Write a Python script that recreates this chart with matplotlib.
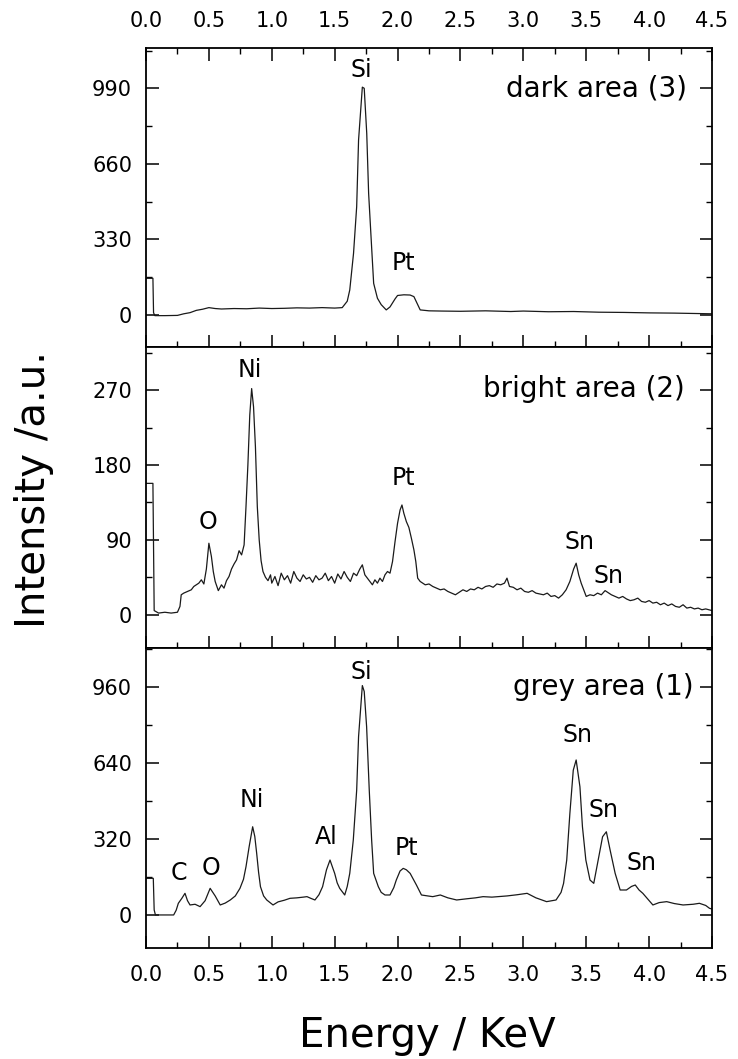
import matplotlib
matplotlib.use("Agg")
import matplotlib.pyplot as plt
from matplotlib.ticker import MultipleLocator, FormatStrFormatter

# ---------------- data ----------------
# dark area (3)
x_dark = [0.00, 0.055, 0.06, 0.07, 0.15, 0.25, 0.30, 0.35, 0.40, 0.45, 0.50, 0.55, 0.60,
          0.70, 0.80, 0.90, 1.00, 1.10, 1.20, 1.30, 1.40, 1.50, 1.56, 1.60, 1.62, 1.65,
          1.675, 1.69, 1.72, 1.735, 1.755, 1.77, 1.795, 1.81, 1.84, 1.87, 1.91, 1.94,
          1.98, 2.00, 2.05, 2.10, 2.13, 2.18, 2.25, 2.35, 2.50, 2.70, 2.90, 3.00, 3.20,
          3.40, 3.60, 3.80, 4.00, 4.20, 4.40, 4.50]
y_dark = [160, 160, 10, -3, -3, -2, 5, 10, 20, 25, 32, 28, 26,
          28, 27, 30, 28, 29, 31, 30, 32, 30, 32, 60, 109, 269,
          473, 764, 995, 990, 793, 531, 284, 138, 73, 45, 22, 35,
          70, 85, 88, 87, 80, 22, 18, 17, 16, 18, 15, 17, 14,
          15, 12, 11, 9, 8, 6, 5]

# bright area (2)
x_bright = [0.00, 0.055, 0.065, 0.10, 0.15, 0.20, 0.25, 0.27, 0.28, 0.30, 0.33, 0.36, 0.38,
            0.40, 0.42, 0.44, 0.46, 0.48, 0.50, 0.52, 0.535, 0.55, 0.575, 0.60, 0.62, 0.64,
            0.66, 0.68, 0.70, 0.72, 0.74, 0.76, 0.78, 0.795, 0.81, 0.825, 0.84, 0.855, 0.87,
            0.885, 0.90, 0.915, 0.93, 0.95, 0.97, 0.99,
            1.00, 1.025, 1.05, 1.075, 1.10, 1.125, 1.15, 1.175, 1.20, 1.225, 1.25, 1.275,
            1.30, 1.325, 1.35, 1.375, 1.40, 1.425, 1.45, 1.475, 1.50, 1.525, 1.55, 1.575,
            1.60, 1.625, 1.65, 1.675, 1.70, 1.72, 1.74, 1.76, 1.78, 1.80, 1.82, 1.84, 1.86,
            1.88, 1.90, 1.92, 1.94, 1.96, 1.98, 2.00, 2.02, 2.035, 2.05, 2.07, 2.09, 2.11,
            2.13, 2.145, 2.16, 2.18, 2.20, 2.22, 2.25, 2.28, 2.31, 2.34, 2.37, 2.40, 2.43,
            2.46, 2.49, 2.52, 2.55, 2.58, 2.61, 2.64, 2.67, 2.70, 2.73, 2.76, 2.79, 2.82,
            2.85, 2.87, 2.89, 2.92, 2.95, 2.98, 3.01, 3.04, 3.07, 3.10, 3.13, 3.16, 3.19,
            3.22, 3.25, 3.28, 3.31, 3.34, 3.37, 3.40, 3.42, 3.44, 3.46, 3.48, 3.50, 3.53,
            3.56, 3.59, 3.62, 3.65, 3.67, 3.70, 3.73, 3.76, 3.79, 3.82, 3.85, 3.88, 3.91,
            3.94, 3.97, 4.00, 4.03, 4.06, 4.09, 4.12, 4.15, 4.18, 4.21, 4.24, 4.27, 4.30,
            4.33, 4.36, 4.39, 4.42, 4.45, 4.50]
y_bright = [158, 158, 5, 2, 3, 2, 3, 10, 24, 26, 28, 30, 34,
            36, 38, 42, 37, 55, 86, 70, 52, 40, 29, 36, 32, 41,
            46, 55, 61, 66, 77, 72, 84, 130, 180, 240, 272, 250, 202,
            130, 90, 65, 52, 45, 41, 48,
            38, 46, 35, 50, 42, 47, 38, 52, 44, 40, 48, 43,
            45, 39, 47, 42, 44, 50, 41, 46, 38, 49, 43, 52,
            45, 40, 50, 47, 55, 60, 48, 44, 40, 36, 42, 38, 44,
            40, 48, 52, 50, 64, 88, 110, 126, 132, 122, 112, 105, 92,
            78, 64, 44, 40, 38, 36, 37, 34, 32, 30, 31, 28, 26,
            24, 27, 30, 28, 31, 30, 33, 31, 34, 35, 33, 37, 36,
            38, 44, 34, 33, 30, 32, 28, 27, 29, 26, 25, 24, 26,
            22, 23, 20, 24, 30, 40, 55, 62, 48, 38, 30, 22, 24,
            23, 26, 24, 29, 27, 24, 22, 20, 22, 19, 17, 18, 20,
            16, 15, 17, 14, 15, 12, 14, 11, 13, 10, 9, 12, 8,
            9, 7, 8, 6, 7, 5]

# grey area (1)
x_grey = [0.00, 0.058, 0.065, 0.075, 0.22, 0.24, 0.257, 0.285, 0.31, 0.33, 0.35, 0.39, 0.43,
          0.47, 0.51, 0.55, 0.59, 0.63, 0.67, 0.71, 0.747, 0.775, 0.795, 0.82, 0.848, 0.865,
          0.88, 0.895, 0.91, 0.935, 0.96, 1.01, 1.05, 1.10, 1.145, 1.20, 1.25, 1.28, 1.31,
          1.343, 1.375, 1.404, 1.435, 1.463, 1.48, 1.50, 1.52, 1.54, 1.58, 1.60, 1.62,
          1.648, 1.675, 1.69, 1.72, 1.735, 1.754, 1.775, 1.794, 1.81, 1.847, 1.87, 1.90,
          1.94, 1.97, 1.99, 2.02, 2.045, 2.07, 2.10, 2.15, 2.19, 2.24, 2.28, 2.34, 2.40,
          2.47, 2.55, 2.62, 2.68, 2.75, 2.87, 2.95, 3.03, 3.10, 3.185, 3.26, 3.30, 3.32,
          3.345, 3.37, 3.397, 3.42, 3.45, 3.47, 3.497, 3.53, 3.56, 3.595, 3.63, 3.66, 3.69,
          3.73, 3.77, 3.82, 3.86, 3.89, 3.92, 3.95, 4.03, 4.08, 4.14, 4.20, 4.27, 4.35,
          4.40, 4.45, 4.48, 4.50]
y_grey = [154, 154, 21, 0, 0, 20, 49, 70, 91, 60, 42, 45, 35,
          60, 112, 80, 42, 50, 63, 80, 112, 150, 203, 287, 371, 330,
          259, 180, 119, 80, 63, 42, 55, 62, 70, 72, 75, 77, 70,
          63, 85, 119, 190, 231, 205, 175, 135, 112, 84, 120, 175,
          315, 525, 750, 965, 940, 792, 525, 315, 175, 119, 95, 84,
          84, 115, 147, 185, 196, 190, 175, 126, 84, 80, 77, 84, 72,
          63, 68, 72, 77, 75, 80, 85, 91, 72, 56, 63, 95, 133,
          231, 427, 609, 652, 539, 371, 231, 147, 133, 231, 329, 350, 273,
          175, 105, 105, 120, 126, 105, 91, 42, 52, 56, 48, 42, 45,
          49, 40, 28, 25]

x_ticks = [0.0, 0.5, 1.0, 1.5, 2.0, 2.5, 3.0, 3.5, 4.0, 4.5]
y_ticks_dark = [0, 330, 660, 990]
y_ticks_bright = [0, 90, 180, 270]
y_ticks_grey = [0, 320, 640, 960]

labels_dark = [("Si", 1.715, 1070), ("Pt", 2.045, 227)]
labels_bright = [("Ni", 0.827, 294), ("O", 0.495, 112), ("Pt", 2.045, 164),
                 ("Sn", 3.45, 88), ("Sn", 3.675, 46)]
labels_grey = [("Si", 1.715, 1023), ("Ni", 0.84, 484), ("Al", 1.436, 329),
               ("Pt", 2.07, 280), ("C", 0.265, 175), ("O", 0.52, 196),
               ("Sn", 3.43, 757), ("Sn", 3.64, 441), ("Sn", 3.94, 217)]

# ---------------- figure ----------------
W, H = 738, 1059
fig = plt.figure(figsize=(W / 100, H / 100), dpi=100)
plt.rcParams['font.family'] = ['DejaVu Sans']

left = 146 / W
width = (712 - 146) / W
def frac_y(py):
    return 1 - py / H

panels = [
    dict(top=48, bot=347, x=x_dark, y=y_dark, yt=y_ticks_dark, ylim=(-140, 1166),
         name="dark area (3)", namex=4.30, namey=990, labels=labels_dark, toplabels=True),
    dict(top=347, bot=648, x=x_bright, y=y_bright, yt=y_ticks_bright, ylim=(-40, 322),
         name="bright area (2)", namex=4.285, namey=272, labels=labels_bright, toplabels=False),
    dict(top=648, bot=948, x=x_grey, y=y_grey, yt=y_ticks_grey, ylim=(-139, 1123),
         name="grey area (1)", namex=4.35, namey=960, labels=labels_grey, toplabels=False),
]

for i, p in enumerate(panels):
    ax = fig.add_axes([left, frac_y(p['bot']), width, (p['bot'] - p['top']) / H])
    ax.plot(p['x'], p['y'], color='#1a1a1a', lw=0.9)
    ax.set_xlim(0, 4.5)
    ax.set_ylim(*p['ylim'])
    ax.set_xticks(x_ticks)
    ax.xaxis.set_minor_locator(MultipleLocator(0.25))
    ax.set_yticks(p['yt'])
    step = p['yt'][1] - p['yt'][0]
    ax.yaxis.set_minor_locator(MultipleLocator(step / 2))
    ax.xaxis.set_major_formatter(FormatStrFormatter('%.1f'))
    is_top = (i == 0)
    is_bottom = (i == 2)
    ax.tick_params(axis='x', which='both', direction='in', top=is_top, bottom=True,
                   labeltop=is_top, labelbottom=is_bottom, labelsize=15, pad=12)
    ax.tick_params(axis='y', which='both', direction='in', left=True, right=True,
                   labelsize=15, pad=10)
    ax.tick_params(which='major', length=9, width=1.1)
    ax.tick_params(which='minor', length=4, width=1.0)
    for s in ax.spines.values():
        s.set_linewidth(1.3)
    ax.text(p['namex'], p['namey'], p['name'], ha='right', va='center', fontsize=20)
    for t, lx, ly in p['labels']:
        ax.text(lx, ly, t, ha='center', va='center', fontsize=17)

fig.text(427 / W, frac_y(1047), "Energy / KeV", ha='center', va='baseline', fontsize=29)
fig.text(34 / W, frac_y(490), "Intensity /a.u.", ha='center', va='center',
         rotation=90, fontsize=29)

fig.savefig("out.png", dpi=100)
